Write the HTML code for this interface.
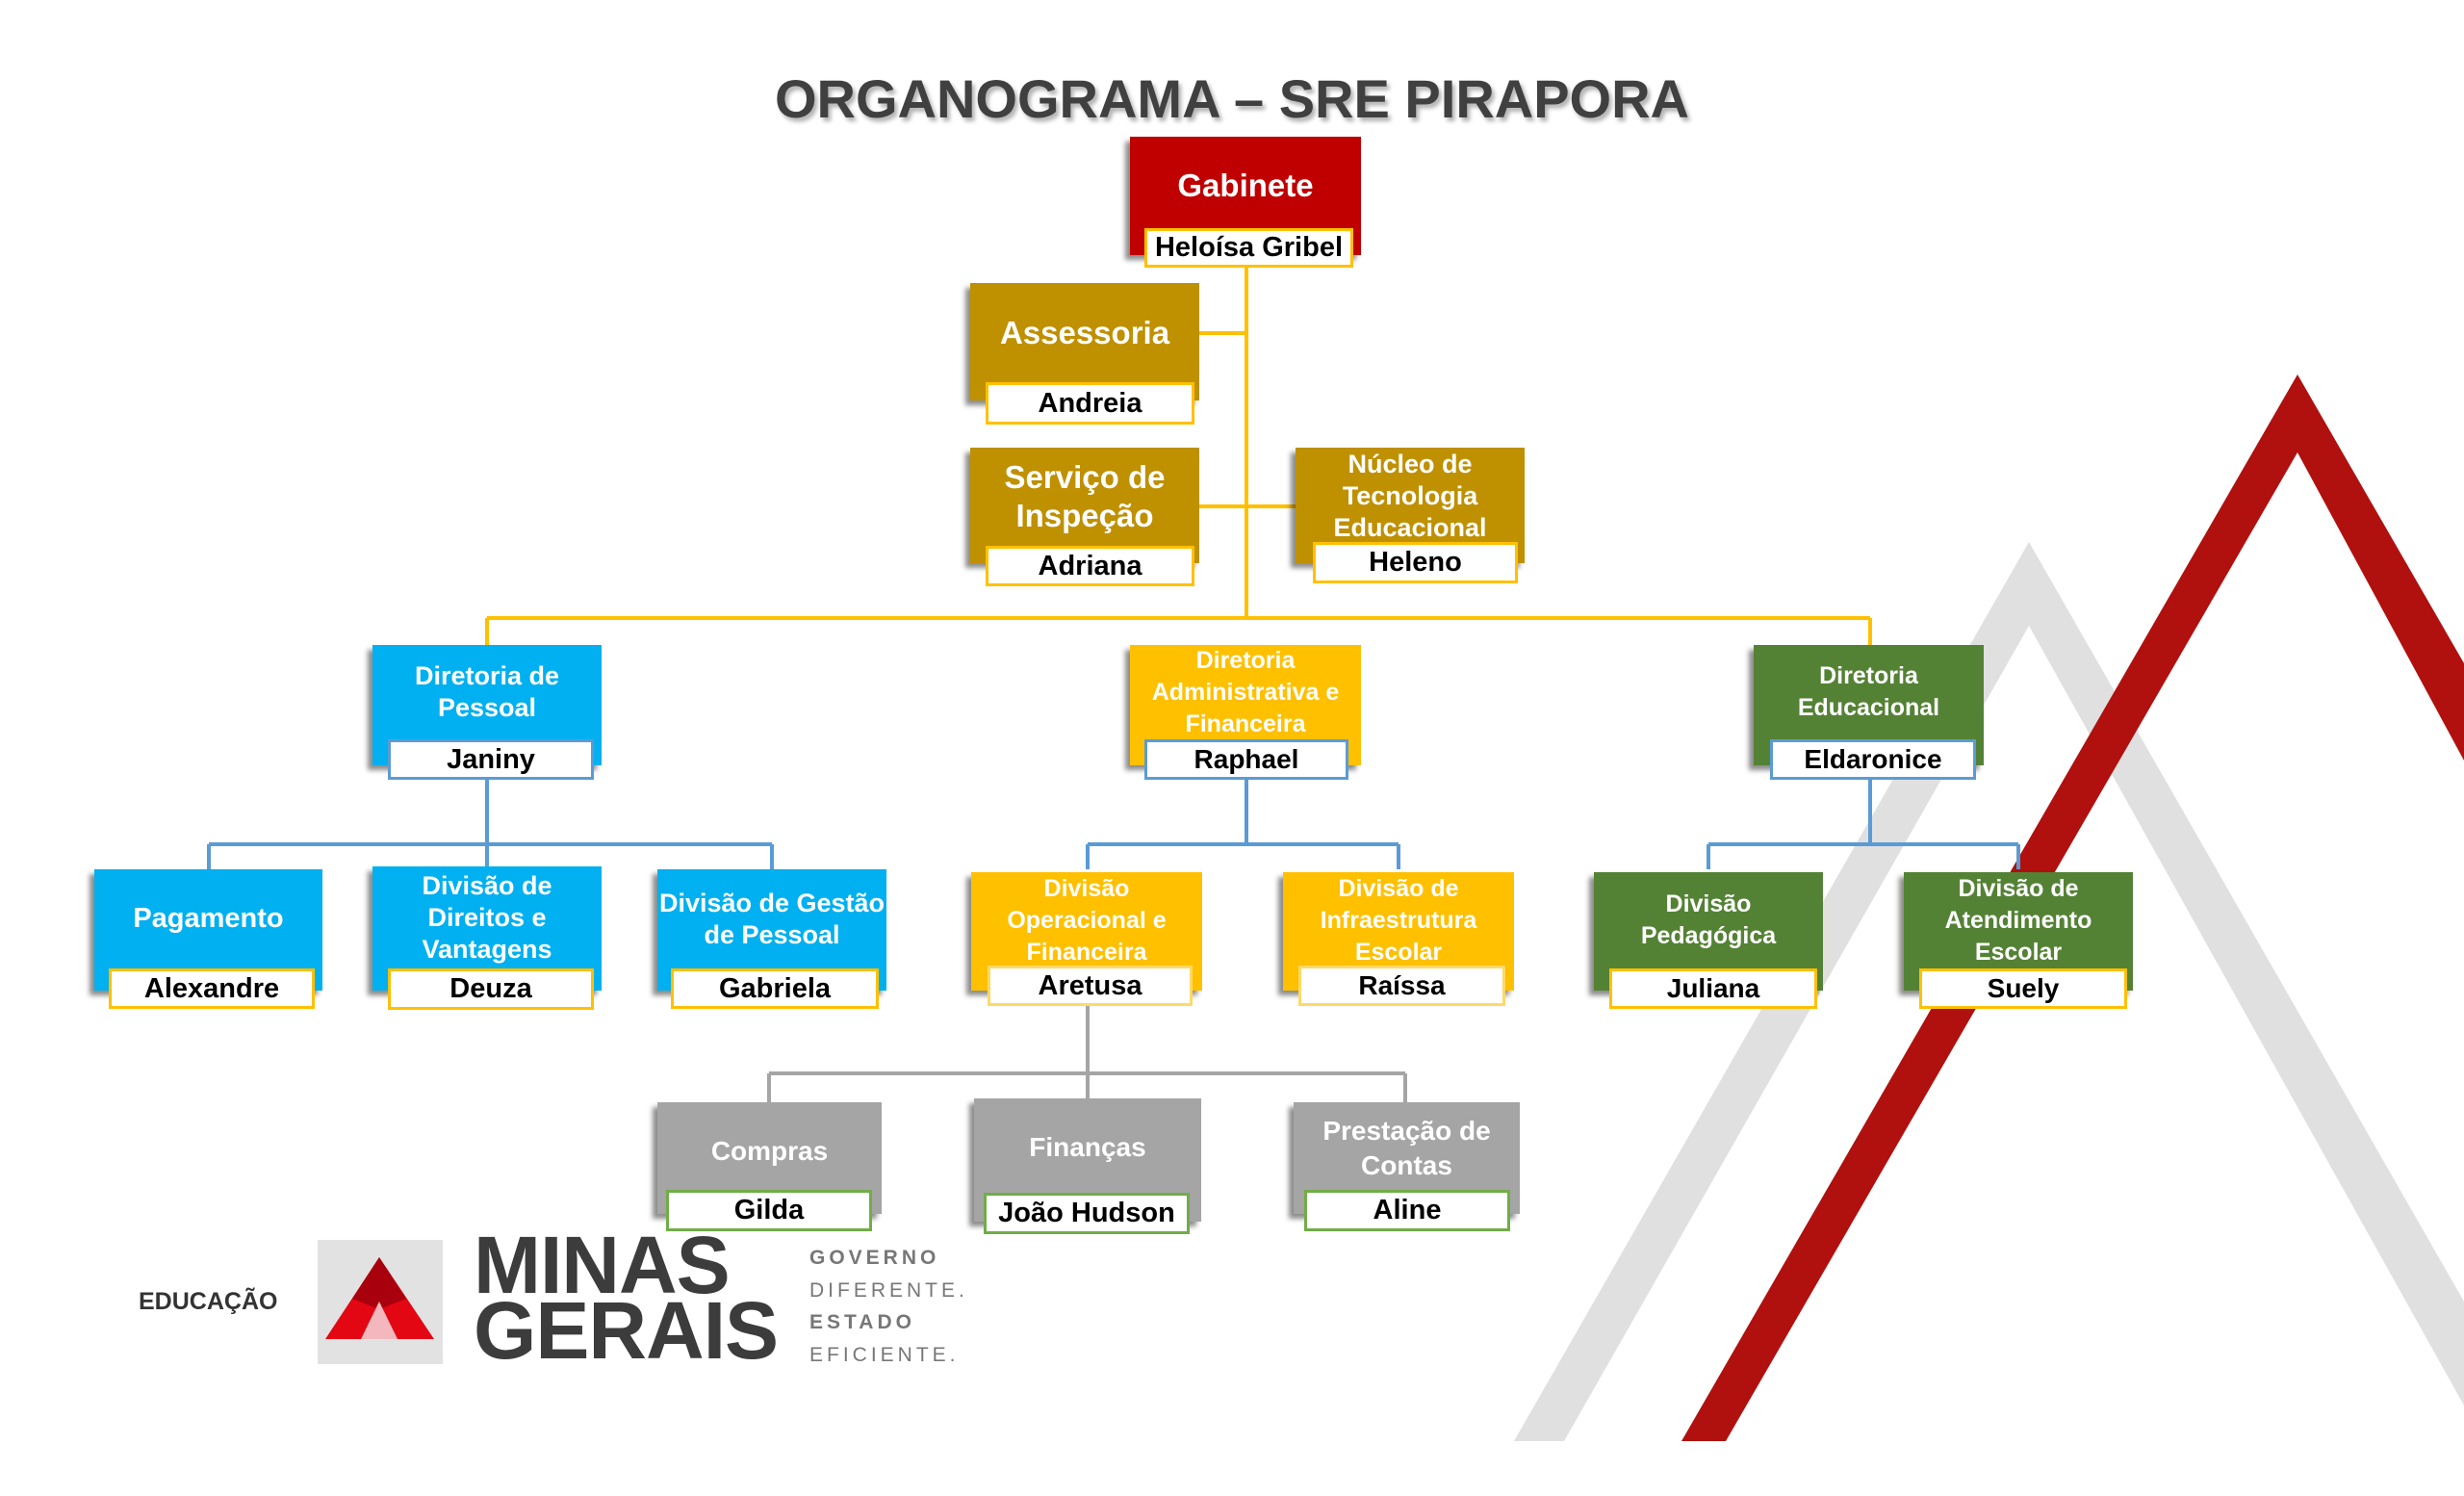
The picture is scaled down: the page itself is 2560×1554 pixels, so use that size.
<!DOCTYPE html>
<html><head><meta charset="utf-8">
<style>
*{margin:0;padding:0;box-sizing:border-box}
body{width:2560px;height:1554px;background:#fff;position:relative;overflow:hidden;font-family:"Liberation Sans",sans-serif}
.n{position:absolute;box-shadow:-5px 5px 5px rgba(0,0,0,.45);color:#fff;font-weight:bold;display:flex;justify-content:center;text-align:center;font-family:"Liberation Sans Narrow","Liberation Sans",sans-serif;font-size:29px;line-height:33px}
.n .t{position:absolute;left:0;right:0;display:flex;align-items:center;justify-content:center;top:0}
.nm{position:absolute;background:#fff;color:#000;font-weight:bold;display:flex;align-items:center;justify-content:center;font-family:"Liberation Sans Narrow","Liberation Sans",sans-serif;font-size:29px;border:3px solid #ffc000}
.n.v{font-family:"Liberation Sans",sans-serif;font-size:25px;line-height:33px}
.nm.vn{font-family:"Liberation Sans",sans-serif;font-size:28px}
</style></head><body>
<svg width="2560" height="1554" style="position:absolute;left:0;top:0">
<polygon points="1573,1497 2108,563 2560,1352 2560,1460 2108,650 1625,1497" fill="#e0e0e0"/>
<polygon points="1747,1497 2387,389 2560,689 2560,790 2387,470 1793,1497" fill="#b0100e"/>
<g fill="none" stroke-width="4">
<path d="M1295 278V642M1246 346H1295M1246 526H1346M506 642H1943M506 642V670M1943 642V670" stroke="#ffc000"/>
<path d="M506 810V877M217 877H802M217 877V903M506 877V903M802 877V903M1295 810V877M1130 877H1453M1130 877V903M1453 877V903M1943 810V877M1775 877H2097M1775 877V903M2097 877V903" stroke="#5b9bd5"/>
<path d="M1130 1045V1141M799 1115H1460M799 1115V1145M1460 1115V1145" stroke="#a5a5a5"/>
</g>
</svg>
<div style="position:absolute;left:0;width:2560px;top:70px;text-align:center;font-size:56px;font-weight:bold;color:#404040;text-shadow:3px 4px 4px rgba(0,0,0,.3)">ORGANOGRAMA – SRE PIRAPORA</div>

<div class="n" style="left:1174px;top:142px;width:240px;height:123px;background:#c00000;font-size:33px"><div class="t" style="height:100px">Gabinete</div></div>
<div class="nm" style="left:1189px;top:237px;width:217px;height:41px">Heloísa Gribel</div>
<div class="n" style="left:1008px;top:294px;width:238px;height:122px;background:#bf9000;font-size:33px"><div class="t" style="height:103px">Assessoria</div></div>
<div class="nm" style="left:1024px;top:397px;width:217px;height:44px">Andreia</div>
<div class="n" style="left:1008px;top:465px;width:238px;height:120px;background:#bf9000;font-size:33px;line-height:40px"><div class="t" style="height:102px">Serviço de<br>Inspeção</div></div>
<div class="nm" style="left:1024px;top:567px;width:217px;height:42px">Adriana</div>
<div class="n" style="left:1346px;top:465px;width:238px;height:120px;background:#bf9000;font-size:27px"><div class="t" style="height:100px">Núcleo de<br>Tecnologia<br>Educacional</div></div>
<div class="nm" style="left:1364px;top:563px;width:213px;height:43px">Heleno</div>

<div class="n" style="left:387px;top:670px;width:238px;height:125px;background:#00b0f0;font-size:27px"><div class="t" style="height:98px">Diretoria de<br>Pessoal</div></div>
<div class="nm" style="left:403px;top:768px;width:214px;height:42px;border-color:#5b9bd5">Janiny</div>
<div class="n v" style="left:1174px;top:670px;width:240px;height:125px;background:#ffc000"><div class="t" style="height:98px">Diretoria<br>Administrativa e<br>Financeira</div></div>
<div class="nm vn" style="left:1189px;top:768px;width:212px;height:42px;border-color:#5b9bd5">Raphael</div>
<div class="n v" style="left:1822px;top:670px;width:239px;height:125px;background:#548235"><div class="t" style="height:98px">Diretoria<br>Educacional</div></div>
<div class="nm vn" style="left:1839px;top:768px;width:214px;height:42px;border-color:#5b9bd5">Eldaronice</div>

<div class="n" style="left:98px;top:903px;width:237px;height:126px;background:#00b0f0;font-size:29px"><div class="t" style="height:103px">Pagamento</div></div>
<div class="nm" style="left:113px;top:1006px;width:214px;height:42px">Alexandre</div>
<div class="n" style="left:387px;top:900px;width:238px;height:129px;background:#00b0f0;font-size:27px"><div class="t" style="height:106px">Divisão de<br>Direitos e<br>Vantagens</div></div>
<div class="nm" style="left:403px;top:1006px;width:214px;height:43px">Deuza</div>
<div class="n" style="left:683px;top:903px;width:238px;height:126px;background:#00b0f0;font-size:27px"><div class="t" style="height:103px">Divisão de Gestão<br>de Pessoal</div></div>
<div class="nm" style="left:697px;top:1006px;width:216px;height:42px">Gabriela</div>

<div class="n v" style="left:1009px;top:906px;width:240px;height:123px;background:#ffc000"><div class="t" style="height:100px">Divisão<br>Operacional e<br>Financeira</div></div>
<div class="nm" style="left:1026px;top:1003px;width:213px;height:42px;border-color:#ffd966">Aretusa</div>
<div class="n v" style="left:1333px;top:906px;width:240px;height:123px;background:#ffc000"><div class="t" style="height:100px">Divisão de<br>Infraestrutura<br>Escolar</div></div>
<div class="nm vn" style="left:1349px;top:1003px;width:215px;height:42px;border-color:#ffd966">Raíssa</div>

<div class="n v" style="left:1656px;top:906px;width:238px;height:123px;background:#548235"><div class="t" style="height:100px">Divisão<br>Pedagógica</div></div>
<div class="nm vn" style="left:1672px;top:1006px;width:216px;height:42px">Juliana</div>
<div class="n v" style="left:1978px;top:906px;width:238px;height:123px;background:#548235"><div class="t" style="height:100px">Divisão de<br>Atendimento<br>Escolar</div></div>
<div class="nm vn" style="left:1994px;top:1006px;width:216px;height:42px">Suely</div>

<div class="n" style="left:683px;top:1145px;width:233px;height:116px;background:#a5a5a5;font-size:28px"><div class="t" style="height:100px">Compras</div></div>
<div class="nm" style="left:692px;top:1236px;width:214px;height:43px;border-color:#70ad47">Gilda</div>
<div class="n" style="left:1012px;top:1141px;width:236px;height:128px;background:#a5a5a5;font-size:28px"><div class="t" style="height:100px">Finanças</div></div>
<div class="nm" style="left:1022px;top:1239px;width:214px;height:43px;border-color:#70ad47">João Hudson</div>
<div class="n" style="left:1344px;top:1145px;width:235px;height:116px;background:#a5a5a5;font-size:28px;line-height:36px"><div class="t" style="height:95px">Prestação de<br>Contas</div></div>
<div class="nm" style="left:1355px;top:1236px;width:214px;height:43px;border-color:#70ad47">Aline</div>

<div style="position:absolute;left:144px;top:1338px;font-size:25px;font-weight:bold;color:#333">EDUCAÇÃO</div>
<div style="position:absolute;left:330px;top:1288px;width:130px;height:129px;background:#e2e2e2"></div>
<svg width="2560" height="1554" style="position:absolute;left:0;top:0">
<polygon points="394,1306 338,1391 451,1391" fill="#e30613"/>
<polygon points="394,1306 366,1349 394,1360 422,1349" fill="#a8000c"/>
<polygon points="394,1352 375,1391 413,1391" fill="#f2b8bd"/>
</svg>
<div style="position:absolute;left:492px;top:1280px;font-size:84px;line-height:68px;font-weight:bold;color:#3c3c3c;letter-spacing:-1px">MINAS<br>GERAIS</div>
<div style="position:absolute;left:841px;top:1290px;font-size:21px;line-height:33.5px;font-weight:bold;color:#777;letter-spacing:4px">GOVERNO<br><span style="font-weight:normal">DIFERENTE.</span><br>ESTADO<br><span style="font-weight:normal">EFICIENTE.</span></div>
</body></html>
